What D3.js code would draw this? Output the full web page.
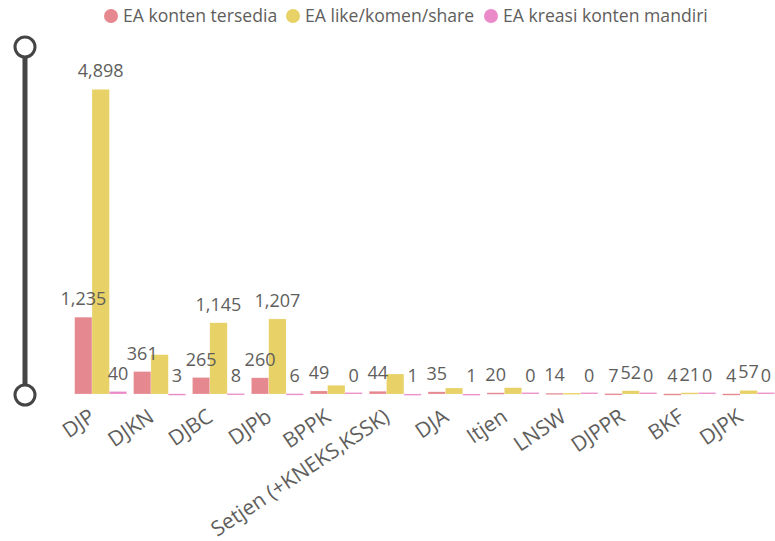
<!DOCTYPE html>
<html>
<head>
<meta charset="utf-8">
<script src="https://cdn.jsdelivr.net/npm/d3@7/dist/d3.min.js"></script>
<style>
  body { margin: 0; background: #fff; }
  svg text { font-family: "Segoe UI", "Open Sans", sans-serif; fill: #605E5C; }
</style>
</head>
<body>
<svg id="chart" width="775" height="541"></svg>
<script>
// categories and series values
var categories = ["DJP", "DJKN", "DJBC", "DJPb", "BPPK", "Setjen (+KNEKS,KSSK)", "DJA", "Itjen", "LNSW", "DJPPR", "BKF", "DJPK"];
var seriesNames = ["EA konten tersedia", "EA like/komen/share", "EA kreasi konten mandiri"];
var kontenTersedia = [1235, 361, 265, 260, 49, 44, 35, 20, 14, 7, 4, 4];
var likeKomenShare = [4898, 632, 1145, 1207, 140, 321, 96, 101, 16, 52, 21, 57];
var kreasiMandiri = [40, 3, 8, 6, 0, 1, 1, 0, 0, 0, 0, 0];
var colors = ["#E6888F", "#E8D166", "#EB8AC8"];

var series = [kontenTersedia, likeKomenShare, kreasiMandiri];

var svg = d3.select("#chart");

var x0 = d3.scaleBand()
    .domain(categories)
    .range([71.25, 778.05])
    .paddingInner(0.117)
    .paddingOuter(0.0585);

var x1 = d3.scaleBand()
    .domain(d3.range(series.length))
    .range([0, x0.bandwidth()]);

var y = d3.scaleLinear()
    .domain([0, 5000])
    .range([394, 394 - 5000 * 0.0622]);

// slider on the left
svg.append("line")
    .attr("x1", 25).attr("x2", 25)
    .attr("y1", 47).attr("y2", 395)
    .attr("stroke", "#454545")
    .attr("stroke-width", 5);

[47, 395].forEach(function(cy) {
    svg.append("circle")
        .attr("cx", 25).attr("cy", cy).attr("r", 10)
        .attr("fill", "#fff")
        .attr("stroke", "#454545")
        .attr("stroke-width", 3);
});

// bars
var groups = svg.selectAll("g.group")
    .data(categories)
    .enter()
    .append("g")
    .attr("class", "group")
    .attr("transform", function(d) { return "translate(" + x0(d) + ",0)"; });

groups.selectAll("rect")
    .data(function(d, i) { return series.map(function(s, j) { return { j: j, v: s[i] }; }); })
    .enter()
    .append("rect")
    .attr("x", function(d) { return x1(d.j); })
    .attr("width", x1.bandwidth())
    .attr("y", function(d) { return y(d.v) - (d.v === 0 ? 1.5 : 0); })
    .attr("height", function(d) { return Math.max(1.5, y(0) - y(d.v)); })
    .attr("fill", function(d) { return colors[d.j]; })
    .attr("stroke", "rgba(255,255,255,0.4)")
    .attr("stroke-width", 0.5);

// data labels, hidden when they collide with an already shown one (like Power BI)
var fmt = d3.format(",");
var shown = [];
var inset = 1;
var labelLayer = svg.append("g");
categories.forEach(function(c, i) {
    series.forEach(function(s, j) {
        var cx = x0(c) + x1(j) + x1.bandwidth() / 2;
        var t = labelLayer.append("text")
            .attr("x", cx)
            .attr("y", y(s[i]) - 12)
            .attr("text-anchor", "middle")
            .style("font-size", "18px")
            .text(fmt(s[i]));
        var b = t.node().getBBox();
        var hit = shown.some(function(o) {
            return b.x + inset < o.x + o.width - inset && o.x + inset < b.x + b.width - inset &&
                   b.y < o.y + o.height && o.y < b.y + b.height;
        });
        if (hit) t.remove();
        else shown.push(b);
    });
});

// x axis labels
svg.selectAll("text.xlab")
    .data(categories)
    .enter()
    .append("text")
    .attr("class", "xlab")
    .attr("text-anchor", "end")
    .attr("transform", function(d) {
        return "translate(" + (x0(d) + x0.bandwidth() / 2 - 13) + ",407) rotate(-34)";
    })
    .attr("dy", "0.75em")
    .style("font-size", "21px")
    .text(function(d) { return d; });

// legend
var legendX = [111, 293, 491];
var legend = svg.selectAll("g.legend")
    .data(seriesNames)
    .enter()
    .append("g")
    .attr("class", "legend")
    .attr("transform", function(d, i) { return "translate(" + legendX[i] + ",16)"; });

legend.append("circle")
    .attr("r", 7)
    .attr("fill", function(d, i) { return colors[i]; });

legend.append("text")
    .attr("x", 12)
    .attr("dy", "0.35em")
    .style("font-size", "17.6px")
    .text(function(d) { return d; });
</script>
</body>
</html>
